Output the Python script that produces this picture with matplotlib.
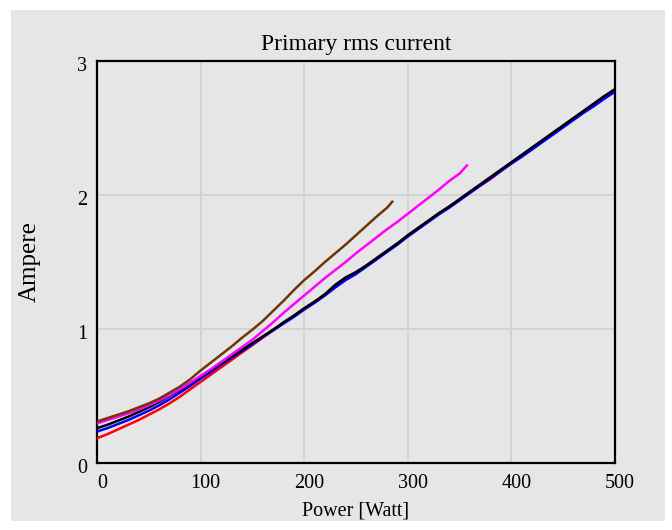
import matplotlib
matplotlib.use("Agg")
import matplotlib.pyplot as plt
from matplotlib.patches import Rectangle
from matplotlib.transforms import ScaledTranslation

plt.rcParams["font.family"] = ["Liberation Serif", "DejaVu Serif"]

# Power axis samples (Watt)
power_full = [0, 10, 20, 30, 40, 50, 60, 70, 80, 90, 100, 110, 120, 130, 140, 150,
              160, 170, 180, 190, 200, 210, 220, 230, 240, 250, 260, 270, 280, 290,
              300, 310, 320, 330, 340, 350, 360, 370, 380, 390, 400, 410, 420, 430,
              440, 450, 460, 470, 480, 490, 500]

# Primary rms current (A) for each configuration
current_red = [0.185, 0.215, 0.25, 0.285, 0.32, 0.36, 0.40, 0.445, 0.495, 0.55, 0.605,
               0.66, 0.715, 0.77, 0.825, 0.88, 0.935, 0.99, 1.045, 1.095, 1.15, 1.20,
               1.255, 1.315, 1.37, 1.42, 1.47, 1.525, 1.58, 1.635, 1.695, 1.75, 1.805,
               1.86, 1.91, 1.965, 2.02, 2.07, 2.12, 2.18, 2.235, 2.29, 2.345, 2.40,
               2.455, 2.51, 2.565, 2.62, 2.675, 2.73, 2.78]
current_blue = [0.235, 0.26, 0.29, 0.32, 0.355, 0.39, 0.43, 0.475, 0.525, 0.575, 0.63,
                0.68, 0.735, 0.785, 0.835, 0.885, 0.94, 0.99, 1.04, 1.09, 1.145, 1.195,
                1.25, 1.31, 1.365, 1.41, 1.465, 1.52, 1.575, 1.63, 1.69, 1.745, 1.80,
                1.855, 1.905, 1.96, 2.015, 2.07, 2.125, 2.18, 2.235, 2.285, 2.34, 2.395,
                2.45, 2.505, 2.56, 2.615, 2.665, 2.72, 2.77]
current_black = [0.26, 0.285, 0.315, 0.345, 0.38, 0.415, 0.455, 0.50, 0.545, 0.595, 0.645,
                 0.695, 0.745, 0.795, 0.845, 0.895, 0.945, 0.995, 1.05, 1.10, 1.155, 1.205,
                 1.26, 1.33, 1.385, 1.425, 1.475, 1.53, 1.585, 1.64, 1.70, 1.755, 1.81,
                 1.865, 1.915, 1.97, 2.025, 2.08, 2.135, 2.19, 2.245, 2.30, 2.355, 2.41,
                 2.465, 2.52, 2.575, 2.63, 2.685, 2.74, 2.79]

power_magenta = [0, 10, 20, 30, 40, 50, 60, 70, 80, 90, 100, 110, 120, 130, 140, 150,
                 160, 170, 180, 190, 200, 210, 220, 230, 240, 250, 260, 270, 280, 290,
                 300, 310, 320, 330, 340, 350, 357]
current_magenta = [0.295, 0.32, 0.345, 0.37, 0.40, 0.43, 0.465, 0.505, 0.55, 0.60, 0.65,
                   0.70, 0.755, 0.81, 0.865, 0.92, 0.985, 1.05, 1.12, 1.185, 1.25, 1.315,
                   1.38, 1.44, 1.50, 1.565, 1.625, 1.685, 1.745, 1.80, 1.86, 1.92, 1.98,
                   2.04, 2.105, 2.16, 2.22]

power_brown = [0, 10, 20, 30, 40, 50, 60, 70, 80, 90, 100, 110, 120, 130, 140, 150,
               160, 170, 180, 190, 200, 210, 220, 230, 240, 250, 260, 270, 280, 285]
current_brown = [0.31, 0.335, 0.36, 0.385, 0.415, 0.445, 0.48, 0.525, 0.57, 0.625, 0.69,
                 0.75, 0.81, 0.87, 0.935, 0.995, 1.06, 1.135, 1.21, 1.29, 1.365, 1.43,
                 1.50, 1.565, 1.63, 1.70, 1.77, 1.84, 1.905, 1.95]

x_ticks = [0, 100, 200, 300, 400, 500]
y_ticks = [0, 1, 2, 3]

W, H, DPI = 672, 530, 100
fig = plt.figure(figsize=(W / DPI, H / DPI), dpi=DPI, facecolor="white")

# grey panel behind the whole chart
fig.patches.append(Rectangle((11 / W, 9 / H), 654 / W, 511 / H,
                             transform=fig.transFigure, facecolor="#e6e6e6",
                             edgecolor="none", zorder=-10))

ax = fig.add_axes([97 / W, (H - 463) / H, (615 - 97) / W, (463 - 61) / H])
ax.set_facecolor("#e6e6e6")

lw = 1.8
ax.plot(power_full, current_red, color="#ff0000", lw=lw, zorder=3)
ax.plot(power_full, current_blue, color="#0000ff", lw=lw, zorder=4)
ax.plot(power_full, current_black, color="#000000", lw=lw, zorder=5)
ax.plot(power_magenta, current_magenta, color="#ff00ff", lw=lw, zorder=6)
ax.plot(power_brown, current_brown, color="#6e3608", lw=lw, zorder=7)

ax.set_xlim(0, 500)
ax.set_ylim(0, 3)
ax.set_xticks(x_ticks)
ax.set_yticks(y_ticks)
ax.grid(True, color="#d2d2d2", lw=1.3)
ax.set_axisbelow(True)
ax.tick_params(length=0, labelsize=14.5, colors="black")
ax.tick_params(axis="x", pad=8)
ax.tick_params(axis="y", pad=7)
for s in ax.spines.values():
    s.set_color("black")
    s.set_linewidth(1.6)

for lab in ax.get_xticklabels():
    lab.set_transform(lab.get_transform() + ScaledTranslation(5 / DPI, 0, fig.dpi_scale_trans))
for lab in ax.get_yticklabels():
    lab.set_transform(lab.get_transform() + ScaledTranslation(0, -3 / DPI, fig.dpi_scale_trans))

ax.set_title("Primary rms current", fontsize=17, pad=8)
ax.set_xlabel("Power [Watt]", fontsize=14.5, labelpad=6)
ax.set_ylabel("Ampere", fontsize=18, labelpad=26)

fig.savefig("out.png", dpi=DPI, facecolor="white")
